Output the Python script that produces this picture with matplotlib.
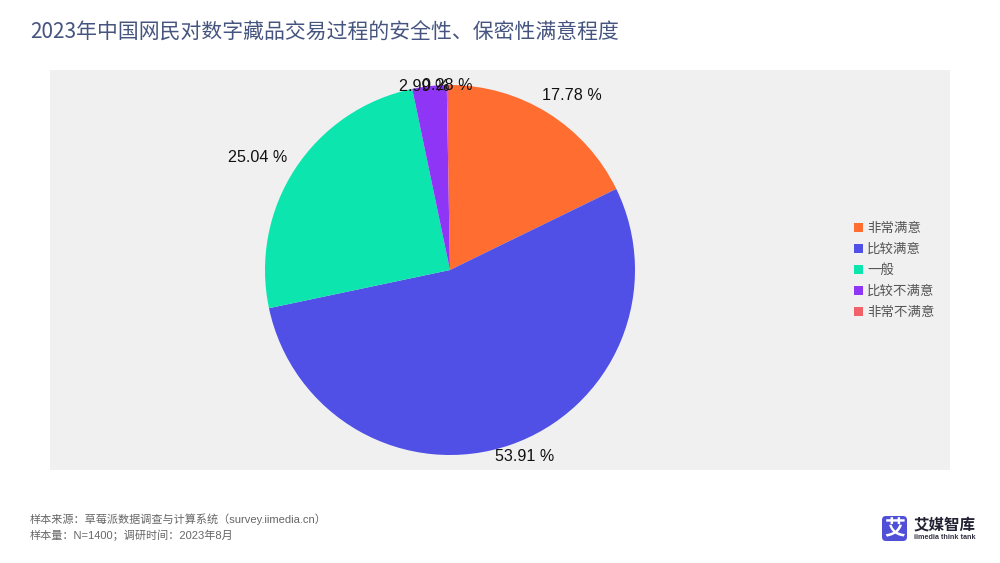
import numpy as np
import matplotlib
matplotlib.use("Agg")
import matplotlib.pyplot as plt
from matplotlib.patches import FancyBboxPatch

categories = ["非常满意", "比较满意", "一般", "比较不满意", "非常不满意"]
values = [17.78, 53.91, 25.04, 2.99, 0.28]
colors = ["#FF6E30", "#5050E6", "#0CE6AE", "#8F35F5", "#F2606A"]
title = "2023年中国网民对数字藏品交易过程的安全性、保密性满意程度"
footer_lines = ["样本来源：草莓派数据调查与计算系统（survey.iimedia.cn）",
                "样本量：N=1400；调研时间：2023年8月"]
# label offset in points from the wedge's outer edge, and its alignment
label_offsets = [(-4, 13), (-11, -8.5), (-6, 8), (-22, -0.5), (-19, -0.5)]
label_aligns = ["left", "left", "right", "left", "left"]

FONT = ["Liberation Sans", "Noto Sans CJK SC", "DejaVu Sans"]
plt.rcParams["font.family"] = FONT

W, H = 1000, 563
fig = plt.figure(figsize=(W / 100, H / 100), dpi=100, facecolor="white")

ax = fig.add_axes([50 / W, 1 - 470 / H, 900 / W, 400 / H])
wedges, _ = ax.pie(values, colors=colors, startangle=90, counterclock=False,
                   center=(400, 200), radius=185, frame=False,
                   wedgeprops={"linewidth": 0})
ax.set_xlim(0, 900)
ax.set_ylim(0, 400)
ax.set_aspect("equal")
ax.set_axis_on()
ax.set_frame_on(True)
ax.set_facecolor("#F0F0F0")
ax.set_xticks([])
ax.set_yticks([])
for s in ax.spines.values():
    s.set_visible(False)

for w, v, off, ha in zip(wedges, values, label_offsets, label_aligns):
    t = np.deg2rad((w.theta1 + w.theta2) / 2)
    xy = (w.center[0] + w.r * np.cos(t), w.center[1] + w.r * np.sin(t))
    ax.annotate(f"{v:.2f} %", xy=xy, xytext=off, textcoords="offset points",
                ha=ha, va="center", fontsize=11.6, color="#111111",
                family=FONT, annotation_clip=False, zorder=5)

leg = ax.legend(wedges, categories, loc="center left",
                bbox_to_anchor=(804 / 900, 0.5), frameon=False,
                handlelength=0.67, handleheight=0.67, handletextpad=0.3,
                labelspacing=0.515, borderpad=0, borderaxespad=0,
                labelcolor="#555555",
                prop={"family": ["Noto Sans CJK SC"], "size": 9.7})

fig.text(30 / W, 1 - 33 / H, title, fontsize=15, color="#46557F",
         va="center", ha="left", family=["Noto Sans CJK SC", "DejaVu Sans"])
for line, y in zip(footer_lines, (519, 535)):
    fig.text(30 / W, 1 - y / H, line, fontsize=8, color="#666666",
             va="center", ha="left", family=FONT)

# brand mark
logo = fig.add_axes([0, 0, 1, 1], zorder=10)
logo.set_xlim(0, W)
logo.set_ylim(H, 0)
logo.axis("off")
logo.add_patch(FancyBboxPatch((885, 519), 19, 19, boxstyle="round,pad=3,rounding_size=4",
                              fc="#4F4FD8", ec="none"))
logo.text(894.5, 528.5, "艾", color="white", fontsize=15, fontweight="bold",
          ha="center", va="center", family=["Noto Sans CJK SC"])
logo.text(945, 524.5, "艾媒智库", color="#222233", fontsize=11.2, fontweight="bold",
          ha="center", va="center", family=["Noto Sans CJK SC"])
logo.text(945, 537.5, "iimedia think tank", color="#333344", fontsize=5.2, fontweight="bold",
          ha="center", va="center", family=["Liberation Sans"])

fig.savefig("out.png", dpi=100, facecolor="white")
